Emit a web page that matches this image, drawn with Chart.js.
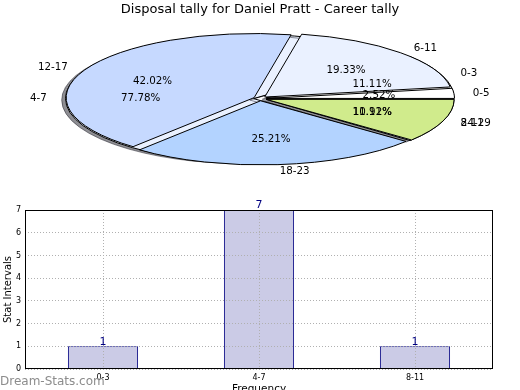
<!DOCTYPE html>
<html>
<head>
<meta charset="utf-8">
<script src="https://cdn.jsdelivr.net/npm/chart.js@4.4.1/dist/chart.umd.min.js"></script>
<style>
  html, body { margin: 0; padding: 0; background: #fff; overflow: hidden; }
  #wrap { position: relative; width: 520px; height: 390px; overflow: hidden; }
  canvas { position: absolute; left: 0; top: 0; }
  #mark { position: absolute; left: 0; top: 374px; font: 12px "DejaVu Sans"; line-height: 14px; color: #8c8c8c; }
</style>
</head>
<body>
<div id="wrap">
  <canvas id="bars" width="520" height="400"></canvas>
  <canvas id="pieUnder" width="520" height="200"></canvas>
  <canvas id="pieTop" width="520" height="200"></canvas>
  <div id="mark">Dream-Stats.com</div>
</div>
<script>
const titleText = "Disposal tally for Daniel Pratt - Career tally";
const disposalBins = ["0-5", "6-11", "12-17", "18-23", "24-29"];
const disposalGames = [3, 23, 50, 30, 13];
const freqBins = ["0-3", "4-7", "8-11"];
const freqCounts = [1, 7, 1];
const yTicks = [0, 1, 2, 3, 4, 5, 6, 7];

const disposalColors = ["#ffffff", "#eaf1ff", "#c6d9ff", "#b3d3ff", "#d0eb8c"];
const freqColors = ["#ffffff", "#eaf1ff", "#c6d9ff"];

Chart.defaults.font.family = '"DejaVu Sans", sans-serif';
Chart.defaults.color = "#000";

// pie is laid out round, then flattened into the ellipse
const RADIUS = 188;
const SQUASH = 0.341;
const PIE_CY = 98.6;
const EXPLODE = 6.5;

function pivotY(chart) {
  const a = chart.chartArea;
  return (a.top + a.bottom) / 2;
}

const squash = {
  id: "squash",
  afterDatasetsUpdate(chart) {
    // push every slice out a little along its middle
    chart.getDatasetMeta(0).data.forEach(arc => {
      const mid = (arc.startAngle + arc.endAngle) / 2;
      arc.x += Math.cos(mid) * EXPLODE;
      arc.y += Math.sin(mid) * EXPLODE;
    });
  },
  beforeDatasetsDraw(chart, args, opts) {
    const ctx = chart.ctx;
    ctx.save();
    ctx.translate(0, PIE_CY);
    ctx.scale(1, SQUASH);
    ctx.translate(0, -pivotY(chart));
    if (opts.shadow) {
      ctx.shadowColor = "rgba(30,30,40,0.5)";
      ctx.shadowOffsetX = -3.8;
      ctx.shadowOffsetY = 1.4;
      ctx.shadowBlur = 0;
    }
    // keep the edge lines 1px thick after squashing
    const plain = ctx.stroke;
    ctx.stroke = function () {
      this.save();
      this.setTransform(1, 0, 0, 1, 0, 0);
      plain.call(this);
      this.restore();
    };
  },
  afterDatasetsDraw(chart) {
    delete chart.ctx.stroke;
    chart.ctx.restore();
  }
};

function drawPieText(ctx, src) {
  const meta = src.getDatasetMeta(0);
  const values = src.data.datasets[0].data;
  const names = src.data.labels;
  const total = values.reduce((s, v) => s + v, 0);
  const cy0 = pivotY(src);
  const sy = y => PIE_CY + (y - cy0) * SQUASH;
  ctx.save();
  ctx.font = '10.3px "DejaVu Sans"';
  ctx.fillStyle = "#000";
  ctx.textBaseline = "middle";
  meta.data.forEach((arc, i) => {
    const mid = (arc.startAngle + arc.endAngle) / 2;
    const c = Math.cos(mid), s = Math.sin(mid);
    const r = arc.outerRadius;
    ctx.textAlign = c > 0 ? "left" : "right";
    ctx.fillText(names[i], arc.x + c * 1.1 * r, sy(arc.y + s * 1.1 * r));
    ctx.textAlign = "center";
    ctx.fillText((values[i] / total * 100).toFixed(2) + "%", arc.x + c * 0.6 * r, sy(arc.y + s * 0.6 * r));
  });
  ctx.restore();
}

function pieConfig(labels, values, colors, shadow) {
  return {
    type: "pie",
    data: {
      labels: labels.slice().reverse(),
      datasets: [{
        data: values.slice().reverse(),
        backgroundColor: colors.slice().reverse(),
        borderColor: "#000",
        borderWidth: 1,
        radius: RADIUS,
        hoverOffset: 0
      }]
    },
    options: {
      responsive: false,
      animation: false,
      events: [],
      rotation: 90,
      plugins: {
        legend: { display: false },
        tooltip: { enabled: false },
        squash: { shadow: shadow }
      }
    },
    plugins: [squash]
  };
}

const underPie = new Chart(document.getElementById("pieUnder"), pieConfig(freqBins, freqCounts, freqColors, true));

const topCfg = pieConfig(disposalBins, disposalGames, disposalColors, false);
topCfg.options.plugins.title = {
  display: true,
  text: titleText,
  color: "#000",
  font: { size: 13, weight: "normal" },
  padding: { top: 2, bottom: 0 }
};
topCfg.plugins.push({
  id: "pieText",
  afterDraw(chart) {
    drawPieText(chart.ctx, underPie);
    drawPieText(chart.ctx, chart);
  }
});
const topPie = new Chart(document.getElementById("pieTop"), topCfg);

const frameAndValues = {
  id: "frameAndValues",
  afterDraw(chart) {
    const { ctx, chartArea: a } = chart;
    ctx.save();
    ctx.strokeStyle = "#000";
    ctx.lineWidth = 1;
    ctx.strokeRect(Math.round(a.left) + 0.5, Math.round(a.top) + 0.5, Math.round(a.width) - 1, Math.round(a.height) - 1);
    ctx.fillStyle = "#000080";
    ctx.font = '11px "DejaVu Sans"';
    ctx.textAlign = "center";
    ctx.textBaseline = "bottom";
    const ds = chart.data.datasets[0];
    chart.getDatasetMeta(0).data.forEach((bar, i) => {
      ctx.fillText(String(ds.data[i]), bar.x, bar.y + 1);
    });
    ctx.restore();
  }
};

new Chart(document.getElementById("bars"), {
  type: "bar",
  data: {
    labels: freqBins,
    datasets: [{
      data: freqCounts,
      backgroundColor: "#cbcbe6",
      borderColor: "#000080",
      borderWidth: 1,
      barPercentage: 0.45,
      categoryPercentage: 1
    }]
  },
  options: {
    responsive: false,
    animation: false,
    events: [],
    layout: { padding: { top: 210, right: 27, left: 0, bottom: 0 } },
    plugins: { legend: { display: false }, tooltip: { enabled: false } },
    scales: {
      x: {
        offset: true,
        grid: { offset: false, color: "#b0b0b0", drawTicks: false, z: 1 },
        border: { display: false, dash: [1, 2] },
        ticks: { font: { size: 8 }, color: "#000", padding: 4 },
        title: { display: true, text: "Frequency", font: { size: 10.5 }, padding: { top: 0, bottom: 4 } },
        afterFit(s) { s.height = 31; }
      },
      y: {
        min: 0,
        max: 7,
        afterBuildTicks(s) { s.ticks = yTicks.map(v => ({ value: v })); },
        grid: { color: "#b0b0b0", drawTicks: false, z: 1 },
        border: { display: false, dash: [1, 2] },
        ticks: { font: { size: 8 }, color: "#000", padding: 4 },
        title: { display: true, text: "Stat Intervals", font: { size: 10 }, padding: { top: 2, bottom: 0 } },
        afterFit(s) { s.width = 25; }
      }
    }
  },
  plugins: [frameAndValues]
});
</script>
</body>
</html>
